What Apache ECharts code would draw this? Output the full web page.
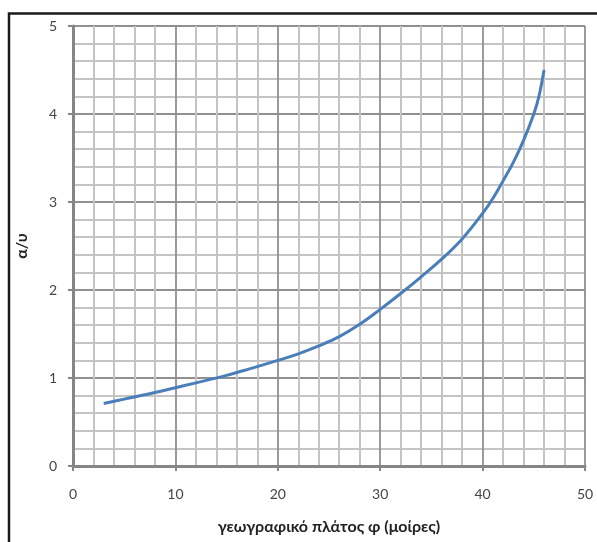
<!DOCTYPE html>
<html>
<head>
<meta charset="utf-8">
<script src="https://cdn.jsdelivr.net/npm/echarts@6/dist/echarts.min.js"></script>
<style>html,body{margin:0;padding:0;background:#fff;}#c{width:597px;height:542px;}</style>
</head>
<body>
<div id="c"></div>
<script>
const latitude = [3, 5, 8, 10, 12, 15, 17, 20, 22, 24, 26, 28, 30, 32, 34, 36, 38, 40, 41, 42, 43, 44, 45, 45.5, 46];
const ratio    = [0.71, 0.76, 0.835, 0.89, 0.945, 1.03, 1.095, 1.20, 1.275, 1.365, 1.47, 1.61, 1.78, 1.96, 2.15, 2.35, 2.58, 2.87, 3.04, 3.24, 3.45, 3.70, 4.00, 4.20, 4.50];
const xTitle = 'γεωγραφικό πλάτος φ (μοίρες)';
const yTitle = 'α/υ';

const chart = echarts.init(document.getElementById('c'), null, {renderer: 'canvas'});
const font = 'Lato, "Open Sans", sans-serif';
chart.setOption({
  animation: false,
  backgroundColor: '#ffffff',
  grid: {left: 73, right: 12, top: 26, bottom: 76},
  graphic: [{
    type: 'rect', silent: true, z: 100,
    shape: {x: 9, y: 13.5, width: 700, height: 700},
    style: {fill: 'none', stroke: '#1a1a1a', lineWidth: 2.5}
  }],
  xAxis: {
    type: 'value', min: 0, max: 50, interval: 10,
    name: xTitle, nameLocation: 'middle', nameGap: 53,
    nameTextStyle: {fontFamily: font, fontWeight: 'bold', fontSize: 16, color: '#222'},
    axisLine: {show: true, onZero: false, lineStyle: {color: '#868686', width: 3}},
    axisTick: {show: true, length: 5, lineStyle: {color: '#868686', width: 2}},
    axisLabel: {fontFamily: font, fontSize: 14, color: '#454545', margin: 21},
    splitLine: {show: true, lineStyle: {color: '#909090', width: 1.8}},
    minorTick: {show: false, splitNumber: 5},
    minorSplitLine: {show: true, lineStyle: {color: '#c4c4c4', width: 2}}
  },
  yAxis: {
    type: 'value', min: 0, max: 5, interval: 1,
    name: yTitle, nameLocation: 'middle', nameGap: 43, nameRotate: 90,
    nameTextStyle: {fontFamily: font, fontWeight: 'bold', fontSize: 16, color: '#222'},
    axisLine: {show: true, lineStyle: {color: '#868686', width: 3}},
    axisTick: {show: true, length: 5, lineStyle: {color: '#868686', width: 2}},
    axisLabel: {fontFamily: font, fontSize: 14, color: '#454545', margin: 16},
    splitLine: {show: true, lineStyle: {color: '#909090', width: 1.8}},
    minorTick: {show: false, splitNumber: 5},
    minorSplitLine: {show: true, lineStyle: {color: '#c4c4c4', width: 2}}
  },
  series: [{
    type: 'line',
    data: latitude.map((x, i) => [x, ratio[i]]),
    smooth: 0.4,
    showSymbol: false,
    lineStyle: {color: '#4a7ebb', width: 3},
    z: 5
  }]
});
</script>
</body>
</html>
